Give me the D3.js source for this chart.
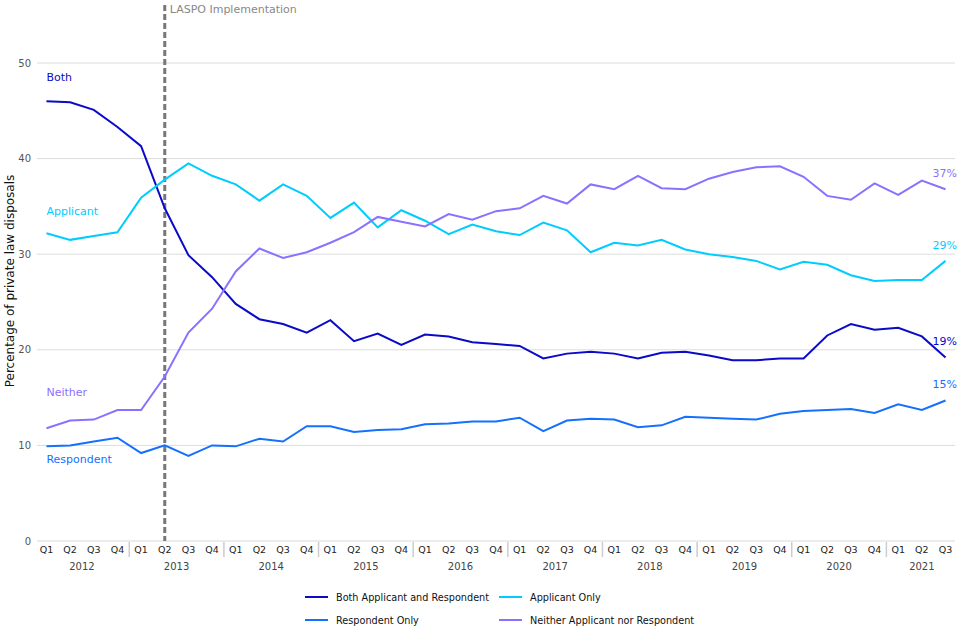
<!DOCTYPE html>
<html><head><meta charset="utf-8">
<script src="https://cdn.jsdelivr.net/npm/d3@7"></script>
<style>body{margin:0;background:#fff;font-family:"DejaVu Sans",sans-serif;}</style>
</head><body><svg id="c" width="960" height="640"></svg>
<script>
const years = ["2012","2013","2014","2015","2016","2017","2018","2019","2020","2021"];
const quarters = ["Q1","Q2","Q3","Q4"];
const yTicks = [0,10,20,30,40,50];
const both = [46.0,45.9,45.1,43.3,41.3,34.8,29.9,27.6,24.8,23.2,22.7,21.8,23.1,20.9,21.7,20.5,21.6,21.4,20.8,20.6,20.4,19.1,19.6,19.8,19.6,19.1,19.7,19.8,19.4,18.9,18.9,19.1,19.1,21.5,22.7,22.1,22.3,21.4,19.2];
const applicant = [32.2,31.5,31.9,32.3,35.9,37.8,39.5,38.2,37.3,35.6,37.3,36.1,33.8,35.4,32.8,34.6,33.5,32.1,33.1,32.4,32.0,33.3,32.5,30.2,31.2,30.9,31.5,30.5,30.0,29.7,29.3,28.4,29.2,28.9,27.8,27.2,27.3,27.3,29.3];
const respondent = [9.9,10.0,10.4,10.8,9.2,10.0,8.9,10.0,9.9,10.7,10.4,12.0,12.0,11.4,11.6,11.7,12.2,12.3,12.5,12.5,12.9,11.5,12.6,12.8,12.7,11.9,12.1,13.0,12.9,12.8,12.7,13.3,13.6,13.7,13.8,13.4,14.3,13.7,14.7];
const neither = [11.8,12.6,12.7,13.7,13.7,17.2,21.8,24.3,28.2,30.6,29.6,30.2,31.2,32.3,33.9,33.4,32.9,34.2,33.6,34.5,34.8,36.1,35.3,37.3,36.8,38.2,36.9,36.8,37.9,38.6,39.1,39.2,38.1,36.1,35.7,37.4,36.2,37.7,36.8];
const seriesNames = ["Both Applicant and Respondent","Applicant Only","Respondent Only","Neither Applicant nor Respondent"];
const shortNames = ["Both","Applicant","Respondent","Neither"];
const colors = ["#0a0ac8","#00ccff","#1470ff","#8c70ff"];
const laspoIndex = 5;

const periods = [];
years.forEach(y => quarters.forEach(q => periods.push(y+" "+q)));
const keys = periods.slice(0, both.length);
const data = [both, applicant, respondent, neither];

const svg = d3.select("#c");
const x = d3.scalePoint().domain(keys).range([37,955]).padding(0.4);
const y = d3.scaleLinear().domain([0,50]).range([541,63]);

// grid
svg.append("g").selectAll("line").data(yTicks).join("line")
  .attr("x1",37).attr("x2",955).attr("y1",d=>y(d)).attr("y2",d=>y(d))
  .attr("stroke",d=>d===0?"#d9d9d9":"#dcdcdc").attr("stroke-width",1);
svg.append("g").selectAll("text").data(yTicks).join("text")
  .attr("x",31).attr("y",d=>y(d)+3.5).attr("text-anchor","end")
  .attr("font-size",10).attr("fill","#555").text(d=>d);

// x axis quarter labels
svg.append("g").selectAll("text").data(keys).join("text")
  .attr("x",d=>x(d)).attr("y",553).attr("text-anchor","middle")
  .attr("font-size",9.5).attr("fill","#222").text(d=>d.split(" ")[1]);
// year separators
const step = x.step();
svg.append("g").selectAll("line").data(years.slice(1)).join("line")
  .attr("x1",d=>x(d+" Q1")-step/2).attr("x2",d=>x(d+" Q1")-step/2)
  .attr("y1",542).attr("y2",557).attr("stroke","#ccc").attr("stroke-width",1.5);
// year labels
svg.append("g").selectAll("text").data(years).join("text")
  .attr("x",d=>{const ks=keys.filter(k=>k.startsWith(d));return (x(ks[0])+x(ks[ks.length-1]))/2;})
  .attr("y",570).attr("text-anchor","middle").attr("font-size",10).attr("fill","#444").text(d=>d);

// y title
svg.append("text").attr("transform","translate(14,281) rotate(-90)").attr("text-anchor","middle")
  .attr("font-size",12).attr("fill","#111").text("Percentage of private law disposals");

// LASPO line
const lx = x(keys[laspoIndex]);
svg.append("line").attr("x1",lx).attr("x2",lx).attr("y1",5).attr("y2",541)
  .attr("stroke","#777").attr("stroke-width",3).attr("stroke-dasharray","6,3");
svg.append("text").attr("x",lx+5).attr("y",13).attr("font-size",11).attr("fill","#888").text("LASPO Implementation");

// lines
const line = d3.line().x((d,i)=>x(keys[i])).y(d=>y(d));
data.forEach((s,k)=>{
  svg.append("path").attr("d",line(s)).attr("fill","none").attr("stroke",colors[k]).attr("stroke-width",2);
});

// start labels
const startLabelY = [81,215,463,396];
shortNames.forEach((n,k)=>{
  svg.append("text").attr("x",x(keys[0])).attr("y",startLabelY[k]).attr("font-size",11)
    .attr("fill",colors[k]).text(n);
});
// end labels
data.forEach((s,k)=>{
  const v = s[s.length-1];
  svg.append("text").attr("x",957).attr("y",y(v)-12).attr("text-anchor","end").attr("font-size",11)
    .attr("fill",colors[k]).text(Math.round(v)+"%");
});

// legend
const lg = svg.append("g");
seriesNames.forEach((n,k)=>{
  const col = k%2, row = Math.floor(k/2);
  const lx0 = col===0?305:499, ly = row===0?597:620;
  lg.append("line").attr("x1",lx0).attr("x2",lx0+23).attr("y1",ly).attr("y2",ly)
    .attr("stroke",colors[k]).attr("stroke-width",2);
  lg.append("text").attr("x",lx0+31).attr("y",ly+3.5).attr("font-size",9.7).attr("fill","#111").text(n);
});
</script></body></html>
